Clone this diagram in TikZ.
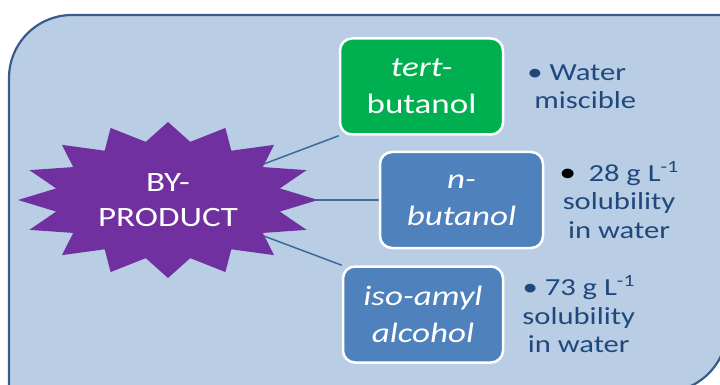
\documentclass[tikz,border=0pt]{standalone}
\usepackage{fontspec}
\setmainfont{Carlito}[FakeStretch=1.25]
\usetikzlibrary{positioning}

\definecolor{panelblue}{HTML}{B9CDE5}
\definecolor{paneledge}{HTML}{385D8A}
\definecolor{byprodpurple}{HTML}{7030A0}
\definecolor{tertgreen}{HTML}{00B050}
\definecolor{boxblue}{HTML}{4F81BD}
\definecolor{notecol}{HTML}{1F497D}
\definecolor{linkcol}{HTML}{3D6A99}

\pgfdeclarelayer{back}
\pgfsetlayers{back,main}

\newcommand\boxtext{\fontsize{28}{37}\selectfont}
\newcommand\notetext{\fontsize{24.5}{28.5}\selectfont}
\newcommand\startext{\fontsize{28}{35}\selectfont}

\begin{document}
\begin{tikzpicture}[x=1pt,y=-1pt,
    panel/.style={fill=panelblue, draw=paneledge, line width=2.2pt},
    box/.style={draw=white, line width=2.5pt, rounded corners=12pt,
        minimum width=163pt, minimum height=96pt,
        text=white, align=center, font=\boxtext},
    note/.style={text=notecol, align=center, inner sep=0pt, font=\notetext},
    link/.style={draw=linkcol, line width=1.5pt}]

\useasboundingbox (0,0) rectangle (720,385);

% Background panel
\begin{pgfonlayer}{back}
\clip (0,0) rectangle (720,385);
\draw[panel] (9,392) -- (9,78) .. controls (9,43.2) and (37.2,15) .. (72,15)
    -- (727,15) -- (727,329) .. controls (727,363.8) and (698.8,392) .. (664,392)
    -- cycle;
\end{pgfonlayer}

% By-product star
\fill[byprodpurple] (318,200)
    \foreach \k [evaluate=\k as \r using {ifthenelse(mod(\k,2)==0,1,0.76)}] in {1,...,31}
    { -- ({168+150*\r*cos(11.25*\k)},{200+78*\r*sin(11.25*\k)}) } -- cycle;
\node[text=white, align=center, font=\startext] (byprod) at (168,200) {BY-\\PRODUCT};

% Alcohol blocks
\node[box, fill=tertgreen] (tert) at (421.5,86.5) {\textit{tert-}\\butanol};
\node[box, fill=boxblue] (nbut) at (461.5,200) {\textit{n-}\\\textit{butanol}};
\node[box, fill=boxblue, minimum width=160pt] (iso) at (423,314.5) {\textit{iso-amyl}\\\textit{alcohol}};

% Solubility notes
\node[note, align=left, right=23pt of tert] (water) {• Water\\\hspace*{7pt}miscible};
\node[note, right=15pt of nbut] (sol28)
    {{\color{black}\fontsize{27}{28}\selectfont •}\enspace 28 g L\textsuperscript{-1}\\solubility\\in water};
\node[note, right=18pt of iso] (sol73) {• 73 g L\textsuperscript{-1}\\solubility\\in water};

% Links
\begin{pgfonlayer}{back}
\draw[link] (byprod) -- (tert.south west);
\draw[link] (byprod) -- (nbut.west);
\draw[link] (byprod) -- (iso.north west);
\end{pgfonlayer}

\end{tikzpicture}
\end{document}
